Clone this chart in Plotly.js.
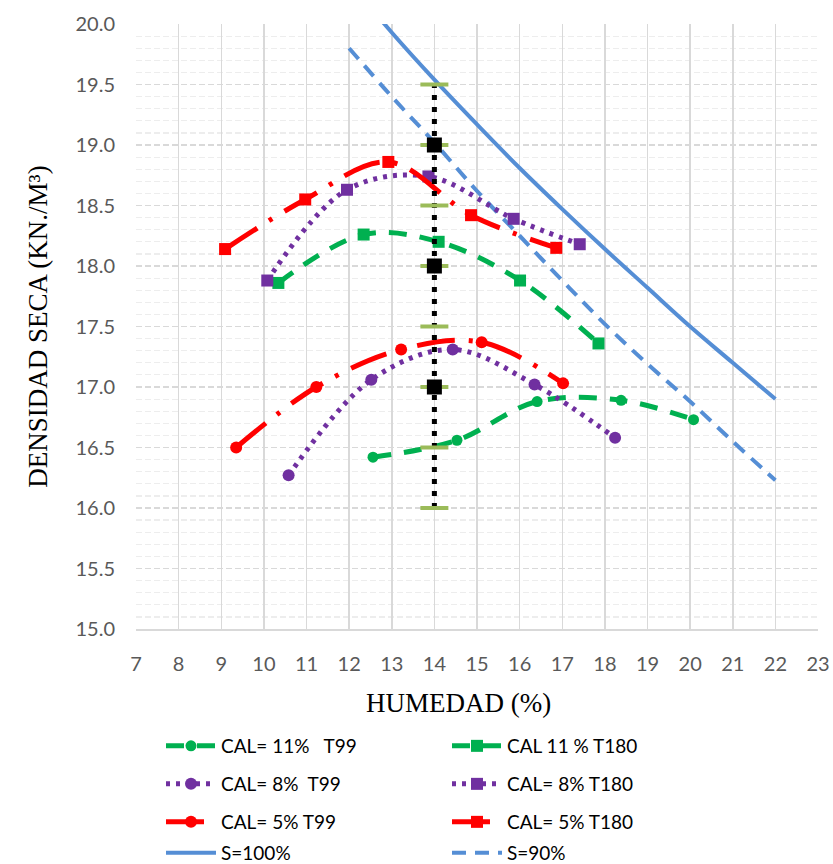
<!DOCTYPE html>
<html>
<head>
<meta charset="utf-8">
<script src="https://cdn.plot.ly/plotly-3.0.1.min.js"></script>
<style>html,body{margin:0;padding:0;background:#fff;}#chart{width:833px;height:864px;}</style>
</head>
<body>
<div id="chart"></div>
<script>
// ---- data ----
const cal11T99_x = [12.56, 14.53, 16.41, 18.38, 20.08];
const cal11T99_y = [16.42, 16.56, 16.88, 16.89, 16.73];

const cal11T180_x = [10.34, 12.34, 14.10, 16.01, 17.85];
const cal11T180_y = [17.86, 18.26, 18.20, 17.88, 17.36];

const cal8T99_x = [10.58, 12.52, 14.43, 16.35, 18.24];
const cal8T99_y = [16.27, 17.06, 17.31, 17.02, 16.58];

const cal8T180_x = [10.08, 11.95, 13.86, 15.86, 17.41];
const cal8T180_y = [17.88, 18.63, 18.74, 18.39, 18.18];

const cal5T99_x = [9.35, 11.23, 13.22, 15.11, 17.02];
const cal5T99_y = [16.50, 17.00, 17.31, 17.37, 17.03];

const cal5T180_x = [9.09, 10.97, 12.92, 14.86, 16.86];
const cal5T180_y = [18.14, 18.55, 18.86, 18.42, 18.15];

const s100_x = [12, 13, 14, 15, 16, 17, 18, 19, 20, 21, 22];
const s100_y = [20.35, 19.93, 19.54, 19.17, 18.81, 18.47, 18.14, 17.82, 17.50, 17.20, 16.90];

const s90_x = [12, 13, 14, 15, 16, 17, 18, 19, 20, 21, 22];
const s90_y = [19.80, 19.40, 19.02, 18.62, 18.25, 17.88, 17.52, 17.19, 16.88, 16.55, 16.23];

const vline_x = [14, 14, 14, 14, 14, 14, 14, 14];
const vline_y = [16.0, 16.5, 17.0, 17.5, 18.0, 18.5, 19.0, 19.5];
const vsq_x = [14, 14, 14];
const vsq_y = [17, 18, 19];

const names = ['CAL= 11%   T99', 'CAL 11 % T180', 'CAL= 8%  T99', 'CAL= 8% T180',
               'CAL= 5% T99', 'CAL= 5% T180', 'S=100%', 'S=90%'];
const xTicks = [7,8,9,10,11,12,13,14,15,16,17,18,19,20,21,22,23];
const yTicks = [15.0,15.5,16.0,16.5,17.0,17.5,18.0,18.5,19.0,19.5,20.0];
const xTitle = 'HUMEDAD (%)';
const yTitle = 'DENSIDAD SECA (KN./M³)';

// ---- styles ----
const GREEN = '#00B050', PURPLE = '#7030A0', RED = '#FF0000', BLUE = '#558ED5';
const greenDash = '18px,13px';
const purpleDot = '4px,6px';
const redDash = '38px,14px,4px,14px';

function tr(x, y, name, color, dash, symbol, size, legend) {
  return {
    x: x, y: y, name: name, type: 'scatter', mode: 'lines+markers',
    line: {color: color, width: 5, dash: dash, shape: 'spline', smoothing: 1},
    marker: {color: color, symbol: symbol, size: size},
    legend: legend
  };
}

const data = [
  {x: s100_x, y: s100_y, name: names[6], type: 'scatter', mode: 'lines',
   line: {color: BLUE, width: 4, shape: 'spline'}, legend: 'legend4'},
  {x: s90_x, y: s90_y, name: names[7], type: 'scatter', mode: 'lines',
   line: {color: BLUE, width: 4, dash: '14px,9px', shape: 'spline'}, legend: 'legend4'},
  tr(cal11T99_x, cal11T99_y, names[0], GREEN, greenDash, 'circle', 11, 'legend'),
  tr(cal11T180_x, cal11T180_y, names[1], GREEN, greenDash, 'square', 12, 'legend'),
  tr(cal8T99_x, cal8T99_y, names[2], PURPLE, purpleDot, 'circle', 12, 'legend2'),
  tr(cal8T180_x, cal8T180_y, names[3], PURPLE, purpleDot, 'square', 12, 'legend2'),
  tr(cal5T99_x, cal5T99_y, names[4], RED, redDash, 'circle', 12, 'legend3'),
  tr(cal5T180_x, cal5T180_y, names[5], RED, redDash, 'square', 12, 'legend3'),
  {x: vline_x, y: vline_y, type: 'scatter', mode: 'lines+markers', showlegend: false,
   line: {color: '#000000', width: 5, dash: '5px,7px'},
   marker: {symbol: 'line-ew', size: 20, line: {color: '#9BBB59', width: 4}}},
  {x: vsq_x, y: vsq_y, type: 'scatter', mode: 'markers', showlegend: false,
   marker: {symbol: 'square', size: 15, color: '#000000'}}
];

const legFont = {family: 'Lato, sans-serif', size: 19, color: '#000000'};
function leg(yPx) {
  return {
    orientation: 'h', xref: 'container', yref: 'container',
    x: 161 / 833, y: 1 - yPx / 864, xanchor: 'left', yanchor: 'middle',
    font: legFont, entrywidth: 221, entrywidthmode: 'pixels',
    itemwidth: 50, bgcolor: 'rgba(0,0,0,0)', traceorder: 'normal'
  };
}

const layout = {
  width: 833, height: 864,
  margin: {l: 136, r: 15, t: 24, b: 235},
  paper_bgcolor: '#ffffff', plot_bgcolor: '#ffffff',
  showlegend: true,
  xaxis: {
    range: [7, 23], tickvals: xTicks, ticktext: xTicks.map(String),
    showgrid: true, gridcolor: '#d9d9d9', gridwidth: 1.5,
    zeroline: false, showline: true, linecolor: '#d9d9d9', linewidth: 1.5,
    ticks: '', ticklabelstandoff: 16,
    tickfont: {family: 'Lato, sans-serif', size: 20, color: '#595959'},
    fixedrange: true
  },
  yaxis: {
    range: [15, 20], tickvals: yTicks, ticktext: yTicks.map(v => v.toFixed(1)),
    showgrid: true, gridcolor: '#d9d9d9', gridwidth: 1.5, griddash: '6px,3px',
    minor: {dtick: 0.1, showgrid: true, gridcolor: '#ededed', gridwidth: 1.2, griddash: '6px,3px'},
    zeroline: false, showline: false,
    ticks: '', ticklabelstandoff: 20,
    tickfont: {family: 'Lato, sans-serif', size: 20, color: '#595959'},
    title: {text: yTitle, standoff: 20,
            font: {family: 'Liberation Serif, serif', size: 27, color: '#000000'}},
    fixedrange: true
  },
  annotations: [{
    text: xTitle, xref: 'paper', yref: 'paper',
    x: (458 - 136) / 682, y: (629 - 703) / 605, xanchor: 'center', yanchor: 'middle',
    showarrow: false, font: {family: 'Liberation Serif, serif', size: 27, color: '#000000'}
  }],
  legend: leg(746),
  legend2: leg(784),
  legend3: leg(822),
  legend4: leg(853)
};

Plotly.newPlot('chart', data, layout, {displayModeBar: false, staticPlot: true});
</script>
</body>
</html>
